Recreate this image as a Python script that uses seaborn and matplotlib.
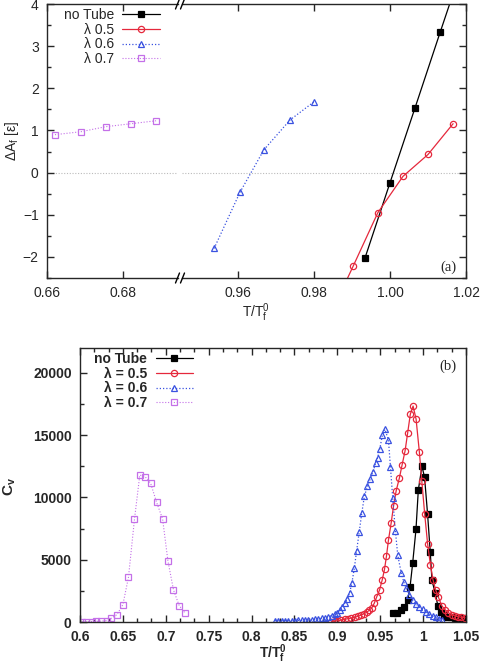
import matplotlib
matplotlib.use('Agg')
import matplotlib.pyplot as plt
import matplotlib.ticker as mticker
from matplotlib.lines import Line2D
import numpy as np
import pandas as pd
import seaborn as sns

# ---- panel (a): Delta A_f vs T/Tf0 (broken x axis) ----
a_notube_T = [0.9934, 1.0000, 1.0066, 1.0132, 1.0198]
a_notube_dA = [-2.03, -0.24, 1.54, 3.33, 5.10]
a_l05_T = [0.9837, 0.9903, 0.9968, 1.0034, 1.0100, 1.0166]
a_l05_dA = [-3.49, -2.22, -0.95, -0.09, 0.43, 1.16]
a_l06_T = [0.9537, 0.9605, 0.9668, 0.9737, 0.9800]
a_l06_dA = [-1.80, -0.47, 0.54, 1.25, 1.68]
a_l07_T = [0.6621, 0.6689, 0.6755, 0.6821, 0.6887]
a_l07_dA = [0.90, 0.97, 1.09, 1.16, 1.23]

# ---- panel (b): specific heat Cv vs T/Tf0 ----
b_notube_T = [0.9646, 0.9692, 0.9744, 0.9782, 0.9820, 0.9848, 0.9878, 0.9917,
              0.9944, 0.9987, 1.0017, 1.0052, 1.0083, 1.0103, 1.0141, 1.0173,
              1.0208, 1.0246, 1.0284, 1.0323, 1.0382, 1.0440, 1.0486]
b_notube_cv = [700, 750, 960, 1180, 1770, 2830, 4710, 7440,
               10590, 12500, 11610, 8670, 5640, 3370, 2300, 1280,
               830, 560, 425, 377, 300, 300, 300]

b_l05_T = [0.8931, 0.8970, 0.9008, 0.9048, 0.9086, 0.9124, 0.9164, 0.9202,
           0.9240, 0.9280, 0.9310, 0.9341, 0.9372, 0.9403, 0.9430, 0.9460,
           0.9492, 0.9523, 0.9550, 0.9573, 0.9596, 0.9628, 0.9655, 0.9686,
           0.9724, 0.9754, 0.9790, 0.9820, 0.9851, 0.9883, 0.9918, 0.9956,
           0.9985, 1.0018, 1.0052, 1.0085, 1.0115, 1.0145, 1.0178, 1.0218,
           1.0254, 1.0292, 1.0331, 1.0370, 1.0408, 1.0447, 1.0486]
b_l05_cv = [24, 80, 104, 160, 217, 265, 321, 377,
            457, 562, 666, 778, 939, 1148, 1500, 2030,
            2570, 3370, 4230, 5300, 6580, 7970, 9300, 10540,
            11580, 12580, 13750, 15190, 16690, 17340, 16290, 13670,
            11300, 8700, 6300, 4600, 3400, 2600, 2000, 1300,
            1000, 760, 600, 490, 425, 377, 345]

b_l06_T = [0.8274, 0.8312, 0.8352, 0.8390, 0.8428, 0.8468, 0.8506, 0.8544,
           0.8584, 0.8622, 0.8660, 0.8700, 0.8738, 0.8776, 0.8816, 0.8854,
           0.8892, 0.8932, 0.8970, 0.8997, 0.9028, 0.9059, 0.9086, 0.9113,
           0.9144, 0.9170, 0.9198, 0.9225, 0.9255, 0.9285, 0.9315, 0.9350,
           0.9385, 0.9415, 0.9445, 0.9470, 0.9495, 0.9525, 0.9555, 0.9596,
           0.9619, 0.9646, 0.9677, 0.9704, 0.9744, 0.9773, 0.9802, 0.9840,
           0.9878, 0.9918, 0.9956, 0.9994, 1.0034, 1.0072, 1.0110, 1.0150,
           1.0188, 1.0218]
b_l06_cv = [104, 104, 104, 104, 104, 104, 104, 136,
            136, 160, 160, 185, 217, 241, 297, 345,
            425, 505, 610, 746, 963, 1204, 1500, 1830,
            2350, 3150, 4310, 5720, 7220, 8750, 10080, 10900,
            11500, 12050, 12740, 13200, 13900, 15000, 15470, 14610,
            12460, 9930, 7300, 5380, 3960, 3250, 2700, 2170,
            1770, 1440, 1230, 1020, 830, 640, 480, 380,
            260, 160]

b_l07_T = [0.6027, 0.6073, 0.6136, 0.6190, 0.6248, 0.6314, 0.6364, 0.6430,
           0.6500, 0.6565, 0.6635, 0.6697, 0.6760, 0.6824, 0.6893, 0.6963,
           0.7025, 0.7090, 0.7157, 0.7227]
b_l07_cv = [20, 30, 40, 50, 70, 120, 300, 590,
            1390, 3590, 8240, 11800, 11660, 11130, 9610, 8270,
            4900, 2570, 1310, 700]

BLACK = '#000000'
RED = '#e5283c'
BLUE = '#3a52e0'
VIOLET = '#c470e8'

sns.set_style('ticks')
plt.rcParams['font.family'] = ['Liberation Sans', 'DejaVu Sans']
plt.rcParams['mathtext.fontset'] = 'custom'
plt.rcParams['mathtext.rm'] = 'Liberation Sans'
plt.rcParams['mathtext.it'] = 'Liberation Sans:italic'
plt.rcParams['mathtext.bf'] = 'Liberation Sans:bold'
plt.rcParams['axes.linewidth'] = 1.0

W, H = 480, 666
fig = plt.figure(figsize=(4.8, 6.66), dpi=100)

def fbox(x0, y0, x1, y1):
    return [x0 / W, 1 - y1 / H, (x1 - x0) / W, (y1 - y0) / H]

axL = fig.add_axes(fbox(47, 4, 178, 278))
axR = fig.add_axes(fbox(182, 4, 466, 278), sharey=axL)
axB = fig.add_axes(fbox(80, 348, 466, 622))

dotted = (0, (1, 1.6))

def draw(ax, x, y, color, marker, ls, label, ms=4.5, open_=True, lw=0.9):
    sns.lineplot(x=x, y=y, ax=ax, color=color, marker=marker, linestyle=ls,
                 linewidth=lw, markersize=ms, sort=False, estimator=None,
                 markerfacecolor='none' if open_ else color,
                 markeredgecolor=color, markeredgewidth=0.9,
                 label=label, legend=False)

# ---- panel (a) ----
for ax in (axL, axR):
    draw(ax, a_notube_T, a_notube_dA, BLACK, 's', '-', 'no Tube', ms=4, open_=False)
    draw(ax, a_l05_T, a_l05_dA, RED, 'o', '-', 'λ 0.5')
    draw(ax, a_l06_T, a_l06_dA, BLUE, '^', dotted, 'λ 0.6')
    draw(ax, a_l07_T, a_l07_dA, VIOLET, 's', dotted, 'λ 0.7', lw=0.8)
    ax.axhline(0, color='#bbbbbb', ls=(0, (1, 1.5)), lw=0.8, zorder=0)

axL.set_xlim(0.66, 0.66 + 131 / 3800)
axR.set_xlim(1.02 - 284 / 3800, 1.02)
axL.set_ylim(-2.5, 4)
axL.spines['right'].set_visible(False)
axR.spines['left'].set_visible(False)
axL.set_xticks([0.66, 0.68])
axR.set_xticks([0.96, 0.98, 1.00, 1.02])
axL.xaxis.set_major_formatter(mticker.FormatStrFormatter('%.2f'))
axR.xaxis.set_major_formatter(mticker.FormatStrFormatter('%.2f'))
axL.yaxis.set_major_locator(mticker.MultipleLocator(1))
axL.yaxis.set_minor_locator(mticker.MultipleLocator(0.5))
axL.yaxis.set_major_formatter(mticker.FuncFormatter(lambda v, p: f'{v:g}'.replace('-', '\u2212')))
axL.tick_params(axis='both', which='both', direction='in', top=True, right=False,
                labelsize=10, width=1)
axL.tick_params(which='major', length=5)
axL.tick_params(which='minor', length=3)
axR.tick_params(axis='both', which='both', direction='in', top=True, right=True,
                left=False, labelleft=False, labelsize=10, width=1)
axR.tick_params(which='major', length=5)
axR.tick_params(which='minor', length=3)
for ax in (axL, axR):
    ax.tick_params(axis='x', which='major', pad=6)
    ax.tick_params(axis='y', which='major', pad=6)
axL.set_xlabel('')
axR.set_xlabel('')
axL.set_ylabel('')
axR.set_ylabel('')

h, l = axL.get_legend_handles_labels()
axL.legend(h, l, loc='upper right', bbox_to_anchor=(160 / W, 1 - 8 / H),
           bbox_transform=fig.transFigure, frameon=False, markerfirst=False,
           fontsize=10, handlelength=2.7, handletextpad=0.6, labelspacing=0.05,
           borderpad=0, borderaxespad=0, numpoints=1)

fig.text(448 / W, 1 - 267 / H, '(a)', family='Liberation Serif', fontsize=10.5,
         ha='center', va='center')
fig.text(256 / W, 1 - 313 / H, r'T/T$_\mathregular{f}^\mathregular{0}$', fontsize=10,
         ha='center', va='center')
fig.text(12 / W, 1 - 141 / H, r'ΔA$_\mathregular{f}$ [ε]', fontsize=10,
         ha='center', va='center', rotation=90)

# break marks on the x axis
for yb in (4, 278):
    for xb in (177.5, 182.5):
        fig.add_artist(Line2D([(xb - 2) / W, (xb + 2) / W],
                              [1 - (yb + 5) / H, 1 - (yb - 5) / H],
                              transform=fig.transFigure, color='black', lw=1))

# ---- panel (b) ----
draw(axB, b_notube_T, b_notube_cv, BLACK, 's', '-', 'no Tube', ms=4, open_=False)
draw(axB, b_l05_T, b_l05_cv, RED, 'o', '-', 'λ = 0.5')
draw(axB, b_l06_T, b_l06_cv, BLUE, '^', dotted, 'λ = 0.6')
draw(axB, b_l07_T, b_l07_cv, VIOLET, 's', dotted, 'λ = 0.7', lw=0.8)

axB.set_xlim(0.6, 1.05)
axB.set_ylim(0, 22000)
axB.xaxis.set_major_locator(mticker.MultipleLocator(0.05))
axB.xaxis.set_minor_locator(mticker.MultipleLocator(0.05 / 3))
axB.xaxis.set_major_formatter(mticker.FuncFormatter(lambda v, p: f'{round(v, 2):g}'))
axB.yaxis.set_major_locator(mticker.MultipleLocator(5000))
axB.yaxis.set_minor_locator(mticker.MultipleLocator(2500))
axB.tick_params(axis='both', which='both', direction='in', top=True, right=False,
                labelsize=10, width=1)
axB.tick_params(which='major', length=5)
axB.tick_params(which='minor', length=3)
axB.tick_params(axis='x', which='major', pad=6)
axB.tick_params(axis='y', which='major', pad=6)
for t in axB.get_xticklabels() + axB.get_yticklabels():
    t.set_fontweight('bold')
axB.set_xlabel('')
axB.set_ylabel('')

h, l = axB.get_legend_handles_labels()
leg = axB.legend(h, l, loc='upper right', bbox_to_anchor=(193 / W, 1 - 352 / H),
                 bbox_transform=fig.transFigure, frameon=False, markerfirst=False,
                 handlelength=2.7, handletextpad=0.6, labelspacing=0.05,
                 borderpad=0, borderaxespad=0, numpoints=1,
                 prop={'weight': 'bold', 'size': 10})

fig.text(448 / W, 1 - 366 / H, '(b)', family='Liberation Serif', fontsize=10.5,
         ha='center', va='center')
fig.text(273 / W, 1 - 654 / H, r'T/T$_\mathbf{f}^\mathbf{0}$', fontsize=10,
         fontweight='bold', ha='center', va='center')
fig.text(10 / W, 1 - 486 / H, r'C$_\mathbf{v}$', fontsize=11, fontweight='bold',
         ha='center', va='center', rotation=90)

fig.savefig('out.png', dpi=100)
